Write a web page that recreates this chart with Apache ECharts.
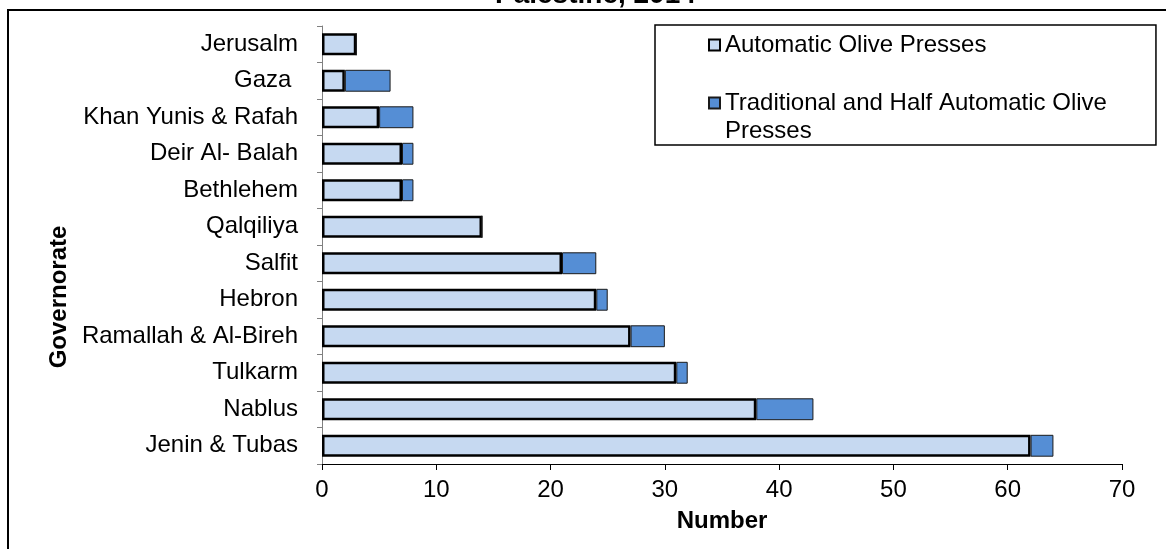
<!DOCTYPE html>
<html>
<head>
<meta charset="utf-8">
<script src="https://cdn.jsdelivr.net/npm/echarts@6/dist/echarts.min.js"></script>
<style>
  html, body { margin: 0; padding: 0; background: #fff; }
  #chart { width: 1166px; height: 549px; }
</style>
</head>
<body>
<div id="chart"></div>
<script>
// governorates, top to bottom
var governorates = ['Jerusalm', 'Gaza ', 'Khan Yunis & Rafah', 'Deir Al- Balah', 'Bethlehem', 'Qalqiliya',
  'Salfit', 'Hebron', 'Ramallah & Al-Bireh', 'Tulkarm', 'Nablus', 'Jenin & Tubas']
var automatic = [3, 2, 5, 7, 7, 14, 21, 24, 27, 31, 38, 62]
var traditional = [0, 4, 3, 1, 1, 0, 3, 1, 3, 1, 5, 2]
var xTicks = { min: 0, max: 70, interval: 10 }

var autoName = 'Automatic Olive Presses'
var tradName = 'Traditional and Half Automatic Olive Presses'

var chart = echarts.init(document.getElementById('chart'))
var font = 'Liberation Sans, Arial, sans-serif'

var option = {
  animation: false,
  textStyle: { fontFamily: font },
  title: {
    text: 'Palestine, 2014',
    left: 490,
    top: -24,
    textStyle: { fontSize: 28, fontWeight: 'bold', color: '#000', fontFamily: font }
  },
  graphic: [{
    type: 'rect',
    shape: { x: 8, y: 10, width: 1200, height: 600 },
    style: { fill: 'none', stroke: '#000', lineWidth: 2 },
    silent: true
  }],
  legend: {
    orient: 'vertical',
    left: 655,
    top: 25,
    padding: [6, 49, 0, 53],
    itemGap: 2,
    itemWidth: 11,
    itemHeight: 11,
    borderColor: '#000',
    borderWidth: 1.5,
    icon: 'rect',
    textStyle: { fontSize: 24, lineHeight: 28, color: '#000', fontFamily: font },
    formatter: function (name) {
      if (name === tradName) {
        return '\nTraditional and Half Automatic Olive\nPresses'
      }
      return name
    },
    data: [autoName, tradName]
  },
  grid: { left: 322, right: 44, top: 26, bottom: 85 },
  xAxis: {
    type: 'value',
    min: xTicks.min,
    max: xTicks.max,
    interval: xTicks.interval,
    name: 'Number',
    nameLocation: 'middle',
    nameGap: 45,
    nameTextStyle: { fontSize: 24, fontWeight: 'bold', color: '#000' },
    axisLine: { show: true, lineStyle: { color: '#000', width: 1 } },
    axisTick: { show: true, length: 6, lineStyle: { color: '#000' } },
    axisLabel: { fontSize: 24, color: '#000', margin: 14 },
    splitLine: { show: false }
  },
  yAxis: {
    type: 'category',
    inverse: true,
    data: governorates,
    name: 'Governorate',
    nameLocation: 'middle',
    nameRotate: 90,
    nameGap: 244,
    nameTextStyle: { fontSize: 24, fontWeight: 'bold', color: '#000', padding: [0, 104, 0, 0] },
    axisLine: { show: true, lineStyle: { color: '#808080', width: 1 } },
    axisTick: { show: true, length: 5, lineStyle: { color: '#808080' } },
    axisLabel: { fontSize: 24, color: '#000', margin: 24 }
  },
  series: [
    {
      name: autoName,
      type: 'bar',
      stack: 'total',
      barCategoryGap: '40%',
      data: automatic,
      itemStyle: { color: '#c6d9f1', borderColor: '#000', borderWidth: 2.5 }
    },
    {
      name: tradName,
      type: 'bar',
      stack: 'total',
      data: traditional,
      itemStyle: { color: '#558ed5', borderColor: '#1a1a1a', borderWidth: 1 }
    }
  ]
}

chart.setOption(option)
window.addEventListener('resize', function () {
  chart.resize()
})
</script>
</body>
</html>
